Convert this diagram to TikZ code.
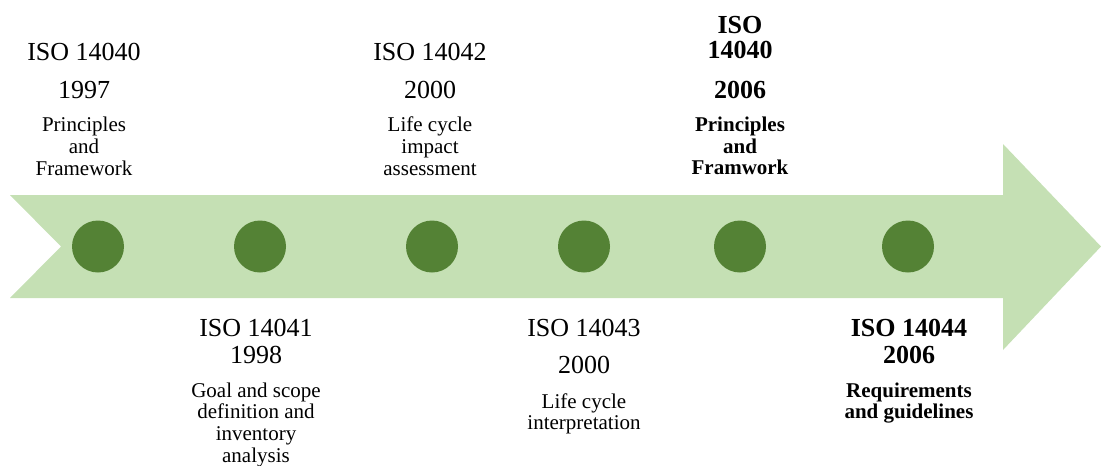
\documentclass[tikz,border=0pt]{standalone}
\usepackage{fontspec}
\setmainfont{Liberation Serif}
\definecolor{bandgreen}{HTML}{C5E0B4}
\definecolor{dotgreen}{HTML}{548235}
% centred stack of lines whose baseline is the first line
\newcommand{\stack}[1]{\begin{tabular}[t]{@{}c@{}}#1\end{tabular}}
\begin{document}
\begin{tikzpicture}[x=1pt,y=-1pt,
  big/.style={inner sep=0pt, anchor=base, font=\fontsize{26}{25}\selectfont},
  small/.style={inner sep=0pt, anchor=base, font=\fontsize{21}{21.8}\selectfont},
  bigb/.style={inner sep=0pt, anchor=base, font=\fontsize{26}{25}\selectfont\bfseries},
  smallb/.style={inner sep=0pt, anchor=base, font=\fontsize{21}{21.8}\selectfont\bfseries},
  dot/.style={circle, fill=dotgreen, minimum size=52pt, inner sep=0pt}]
\useasboundingbox (0,0) rectangle (1101,466);

% timeline band with notched tail and arrow head
\fill[bandgreen] (10,195) -- (1003,195) -- (1003,144) -- (1101,246.5)
  -- (1003,350) -- (1003,298) -- (10,298) -- (61,246.5) -- cycle;

% milestones
\node[dot] (d1) at (98,246.5) {};
\node[dot] (d2) at (260,246.5) {};
\node[dot] (d3) at (432,246.5) {};
\node[dot] (d4) at (584,246.5) {};
\node[dot] (d5) at (740,246.5) {};
\node[dot] (d6) at (908,246.5) {};

% ISO 14040 (1997)
\node[big] (t1) at (84,60) {ISO 14040};
\node[big] (y1) at (84,98.5) {1997};
\node[small] (n1) at (84,131.7) {\stack{Principles\\and\\Framework}};

% ISO 14041 (1998)
\node[big] (t2) at (256,336) {ISO 14041};
\node[big] (y2) at (256,363) {1998};
\node[small] (n2) at (256,397) {\stack{Goal and scope\\definition and\\inventory\\analysis}};

% ISO 14042 (2000)
\node[big] (t3) at (430,60) {ISO 14042};
\node[big] (y3) at (430,98.5) {2000};
\node[small] (n3) at (430,131.7) {\stack{Life cycle\\impact\\assessment}};

% ISO 14043 (2000)
\node[big] (t4) at (584,336) {ISO 14043};
\node[big] (y4) at (584,373) {2000};
\node[small] (n4) at (584,408) {\stack{Life cycle\\interpretation}};

% ISO 14040 (2006)
\node[bigb] (t5) at (740,33) {\stack{ISO\\14040}};
\node[bigb] (y5) at (740,98.5) {2006};
\node[smallb] (n5) at (740,131.3) {\stack{Principles\\and\\Framwork}};

% ISO 14044 (2006)
\node[bigb] (t6) at (909,336) {ISO 14044};
\node[bigb] (y6) at (909,363) {2006};
\node[smallb] (n6) at (909,397) {\stack{Requirements\\and guidelines}};
\end{tikzpicture}
\end{document}
